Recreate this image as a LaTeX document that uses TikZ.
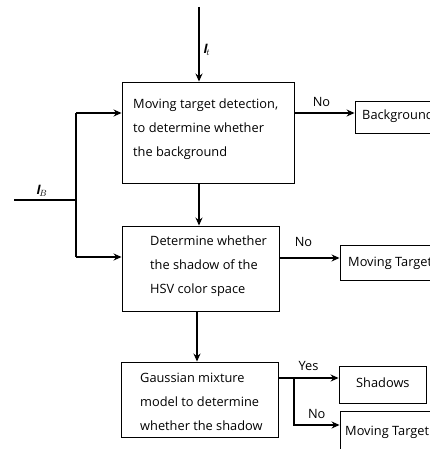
\documentclass[tikz,border=0pt]{standalone}
\usepackage{fontspec}
\setmainfont{Open Sans}
\usetikzlibrary{arrows.meta}
\begin{document}
\begin{tikzpicture}[x=1pt,y=-1pt,
  box/.style={draw,line width=0.9pt,inner sep=0pt},
  txt/.style={anchor=west,align=left,inner sep=0pt,font=\fontsize{12.8}{24}\selectfont},
  lbl/.style={inner sep=0pt,font=\fontsize{12.8}{14}\selectfont},
  arr/.style={line width=1.3pt,-{Stealth[length=8pt,width=7pt]}},
  ln/.style={line width=1.3pt}]
\useasboundingbox (0,0) rectangle (430,449);
\clip (0,0) rectangle (430,449);
% main boxes
\node[box,minimum width=172pt,minimum height=101pt] (b1) at (208,132.5) {};
\node[txt] (t1) at (133,129) {Moving target detection,\\to determine whether\\the background};
\node[box,minimum width=157pt,minimum height=85pt] (b2) at (200.5,268.5) {};
\node[txt] (t2) at (150,266) {Determine whether\\the shadow of the\\HSV color space};
\node[box,minimum width=157pt,minimum height=75pt] (b3) at (199.5,399.5) {};
\node[txt] (t3) at (140,402) {Gaussian mixture\\model to determine\\whether the shadow};
% result boxes
\node[box,minimum width=90pt,minimum height=32pt] (r1) at (400,117) {};
\node[txt,font=\fontsize{12.8}{14}\selectfont] (rt1) at (362,116) {Background};
\node[box,minimum width=100pt,minimum height=35pt] (r2) at (390,262.5) {};
\node[txt,font=\fontsize{12.8}{14}\selectfont] (rt2) at (348,263) {Moving Target};
\node[box,minimum width=87pt,minimum height=37pt] (r3) at (382.5,384.5) {};
\node[txt,font=\fontsize{12.8}{14}\selectfont] (rt3) at (356,383) {Shadows};
\node[box,minimum width=100pt,minimum height=50pt] (r4) at (390,436) {};
\node[txt,font=\fontsize{12.8}{14}\selectfont] (rt4) at (345,432) {Moving Target};
% coordinates
\coordinate (top) at (199,7);
\coordinate (ib) at (14,200);
\coordinate (j1) at (76,113);
\coordinate (j2) at (76,257);
\coordinate (jb) at (76,200);
\coordinate (br) at (294,378);
% arrows
\draw[arr] (top) -- (top |- b1.north) node[pos=0.57,right=4pt,inner sep=0pt,font=\fontsize{13}{14}\selectfont] {\textbf{\textit{I}}$_{\!t}$};
\draw[ln] (ib) -- (jb) node[pos=0.45,above=3pt,inner sep=0pt,font=\fontsize{13}{14}\selectfont] {\textbf{\textit{I}}$_{\!B}$};
\draw[ln] (j2) -- (j1);
\draw[arr] (j1) -- (j1 -| b1.west);
\draw[arr] (j2) -- (j2 -| b2.west);
\draw[arr] (b1.south -| 199,0) -- (b2.north -| 199,0);
\draw[arr] (b2.south -| 197,0) -- (b3.north -| 197,0);
\draw[arr] (b1.east |- 0,113) -- (r1.west |- 0,113) node[lbl,pos=0.45,above=6pt] {No};
\draw[arr] (b2.east |- 0,258) -- (r2.west |- 0,258) node[lbl,pos=0.4,above=11pt] {No};
\draw[arr] (b3.east |- br) -- (r3.west |- br) node[lbl,pos=0.5,above=7pt] {Yes};
\draw[arr] (br) |- (r4.west |- 0,425) node[lbl,pos=0.75,above=6pt] {No};
\end{tikzpicture}
\end{document}
